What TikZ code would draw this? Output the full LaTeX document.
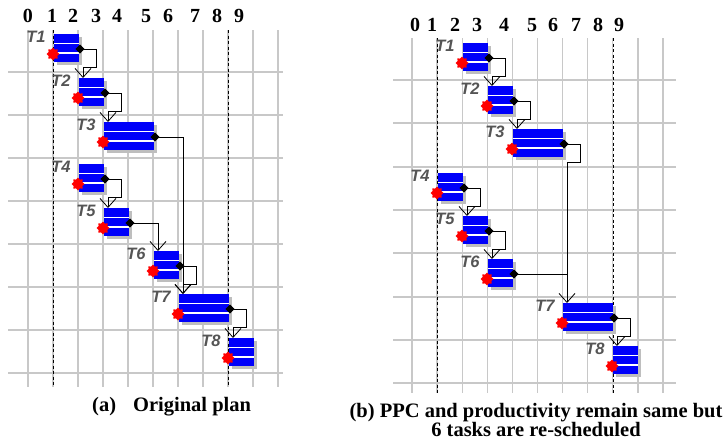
\documentclass[tikz,border=0pt]{standalone}
\usepackage{fontspec}
\setmainfont{Liberation Serif}
\newfontfamily\labfont{Liberation Sans}
\usetikzlibrary{shapes.geometric,arrows.meta,shadows}
\definecolor{gridgray}{RGB}{200,200,200}
\definecolor{shadowgray}{RGB}{190,190,190}
\definecolor{barblue}{RGB}{0,0,250}
\definecolor{labgray}{RGB}{85,85,85}
\tikzset{
  gridline/.style={draw=gridgray, line width=1.3pt},
  dashline/.style={draw=black, line width=1pt, dash pattern=on 3pt off 2.5pt},
  bar/.style={fill=barblue, inner sep=0pt, outer sep=0pt, minimum height=28pt,
    drop shadow={shadow xshift=3pt, shadow yshift=-3pt, fill=shadowgray, opacity=1},
    path picture={
      \draw[white, line width=1.4pt] ([yshift=-9.5pt]path picture bounding box.north west) -- ([yshift=-9.5pt]path picture bounding box.north east);
      \draw[white, line width=1.4pt] ([yshift=-19pt]path picture bounding box.north west) -- ([yshift=-19pt]path picture bounding box.north east);
    }},
  diam/.style={diamond, fill=black, inner sep=0pt, minimum size=9pt},
  redstar/.style={star, star points=8, star point ratio=1.35, fill=red, inner sep=0pt, minimum size=13pt},
  tlab/.style={text=labgray, font=\labfont\fontsize{16.5}{16.5}\selectfont\bfseries\itshape, inner sep=0pt},
  conn/.style={draw=black, line width=0.9pt, -{Straight Barb[length=9pt,width=16pt,line width=0.8pt]}},
  plainline/.style={draw=black, line width=0.9pt},
  numlab/.style={font=\fontsize{20}{20}\selectfont\bfseries, inner sep=0pt, anchor=base},
  caplab/.style={font=\fontsize{20.5}{19}\selectfont\bfseries, inner sep=0pt, anchor=base}
}
\newcommand\mktask[5]{%
  \node[bar, minimum width=#4pt, anchor=north west] (#1) at (#2,#3) {};
  \coordinate (#1in) at ([xshift=4pt]#1.north west);
  \node[redstar] (#1s) at ([xshift=-1pt, yshift=-20pt]#1.north west) {};
  \node[tlab] (#1l) at ([xshift=-18pt, yshift=-3pt]#1.north west) {#5};
}
\newcommand\mkdiam[1]{\node[diam] (#1d) at ([xshift=1pt, yshift=-15pt]#1.north east) {};}
\begin{document}
\begin{tikzpicture}[x=1pt,y=-1pt]
\useasboundingbox[fill=white] (0,0) rectangle (728,447);
% ---------- left grid ----------
\foreach \k in {0,...,10} \draw[gridline] (28+25*\k,30) -- (28+25*\k,387);
\foreach \yy in {72,115,158,201,244,287,330,373} \draw[gridline] (8,\yy) -- (283,\yy);
\draw[dashline] (53,30) -- (53,387);
\draw[dashline] (228,30) -- (228,387);
% ---------- right grid ----------
\foreach \k in {0,...,10} \draw[gridline] (412+25.1*\k,38) -- (412+25.1*\k,393);
\foreach \yy in {80,123,167,210,253,297,340,383} \draw[gridline] (393,\yy) -- (676,\yy);
\draw[dashline] (437,38) -- (437,393);
\draw[dashline] (613,38) -- (613,393);
% ---------- numbers ----------
\foreach \d/\xx in {0/28,1/52,2/73,3/96,4/117,5/146,6/168,7/195,8/217,9/239}
  \node[numlab] (n\d) at (\xx,22) {\d};
\foreach \d/\xx in {0/415,1/432,2/455,3/477,4/504,5/532,6/553,7/576,8/598,9/619}
  \node[numlab] (m\d) at (\xx,31) {\d};
% ---------- left tasks ----------
\mktask{a1}{54}{34}{25}{T1}
\mktask{a2}{79}{78}{25}{T2}
\mktask{a3}{104}{122}{50}{T3}
\mktask{a4}{79}{164}{25}{T4}
\mktask{a5}{104}{208}{25}{T5}
\mktask{a6}{154}{251}{25}{T6}
\mktask{a7}{179}{294}{50}{T7}
\mktask{a8}{229}{338}{25}{T8}
\foreach \t in {a1,a2,a3,a4,a5,a6,a7} {\mkdiam{\t}}
\draw[conn] (a1d.center) -- ++(16,0) -- ++(0,18) -| (a2in);
\draw[conn] (a2d.center) -- ++(16,0) -- ++(0,18) -| (a3in);
\draw[conn] (a3d.center) -| (a7in);
\draw[conn] (a4d.center) -- ++(16,0) -- ++(0,18) -| (a5in);
\draw[conn] (a5d.center) -| (a6in);
\draw[conn] (a6d.center) -- ++(16,0) -- ++(0,18) -| (a7in);
\draw[conn] (a7d.center) -- ++(16,0) -- ++(0,18) -| (a8in);
\foreach \t in {a1,a2,a3,a4,a5,a6,a7} {\node[diam] at (\t d.center) {};}
% ---------- right tasks ----------
\mktask{b1}{463}{43}{25}{T1}
\mktask{b2}{488}{86}{25}{T2}
\mktask{b3}{513}{129}{50}{T3}
\mktask{b4}{438}{173}{25}{T4}
\mktask{b5}{463}{216}{25}{T5}
\mktask{b6}{488}{259}{25}{T6}
\mktask{b7}{563}{303}{50}{T7}
\mktask{b8}{613}{346}{25}{T8}
\foreach \t in {b1,b2,b3,b4,b5,b6,b7} {\mkdiam{\t}}
\draw[conn] (b1d.center) -- ++(16,0) -- ++(0,18) -| (b2in);
\draw[conn] (b2d.center) -- ++(16,0) -- ++(0,18) -| (b3in);
\draw[conn] (b3d.center) -- ++(16,0) -- ++(0,18) -| (b7in);
\draw[conn] (b4d.center) -- ++(16,0) -- ++(0,18) -| (b5in);
\draw[conn] (b5d.center) -- ++(16,0) -- ++(0,18) -| (b6in);
\draw[plainline] (b6d.center) -- (b6d.center -| b7in);
\draw[conn] (b7d.center) -- ++(16,0) -- ++(0,18) -| (b8in);
\foreach \t in {b1,b2,b3,b4,b5,b6,b7} {\node[diam] at (\t d.center) {};}
% ---------- captions ----------
\node[caplab, anchor=base west] (capa) at (92,411) {(a)\hspace{17pt}Original plan};
\node[caplab] (capb1) at (536,417) {(b) PPC and productivity remain same but};
\node[caplab] (capb2) at (536,436) {6 tasks are re-scheduled};
\end{tikzpicture}
\end{document}
